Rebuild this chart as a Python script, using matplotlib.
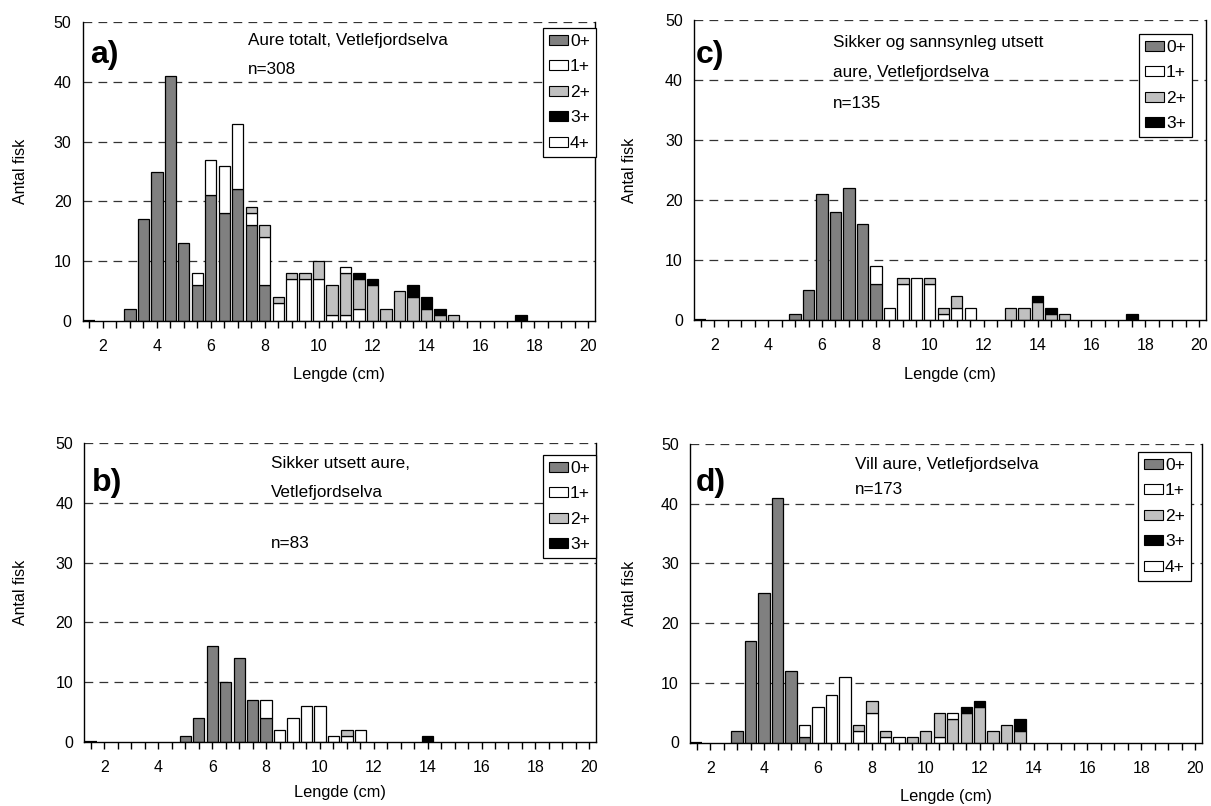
import numpy as np
import matplotlib
matplotlib.use("Agg")
import matplotlib.pyplot as plt
from matplotlib.patches import Patch
from matplotlib.ticker import MultipleLocator

plt.rcParams['font.family'] = ['Liberation Sans', 'DejaVu Sans']

# ---------------- data ----------------
# length classes (cm), 0.5 cm bins from 1.5 to 20
lengths = [1.5, 2.0, 2.5, 3.0, 3.5, 4.0, 4.5, 5.0, 5.5, 6.0, 6.5, 7.0, 7.5, 8.0,
           8.5, 9.0, 9.5, 10.0, 10.5, 11.0, 11.5, 12.0, 12.5, 13.0, 13.5, 14.0,
           14.5, 15.0, 15.5, 16.0, 16.5, 17.0, 17.5, 18.0, 18.5, 19.0, 19.5, 20.0]
age_labels = ["0+", "1+", "2+", "3+", "4+"]
x_tick_labels = [2, 4, 6, 8, 10, 12, 14, 16, 18, 20]

# a) Aure totalt (counts per length bin, listed from 1.5 cm; rest are zero)
a_0 = [0, 0, 0, 2, 17, 25, 41, 13, 6, 21, 18, 22, 16, 6]
a_1 = [0, 0, 0, 0, 0, 0, 0, 0, 2, 6, 8, 11, 2, 8, 3, 7, 7, 7, 1, 1, 2]
a_2 = [0, 0, 0, 0, 0, 0, 0, 0, 0, 0, 0, 0, 1, 2, 1, 1, 1, 3, 5, 7, 5, 6, 2, 5, 4, 2, 1, 1]
a_3 = [0, 0, 0, 0, 0, 0, 0, 0, 0, 0, 0, 0, 0, 0, 0, 0, 0, 0, 0, 0, 1, 1, 0, 0, 2, 2, 1, 0, 0, 0, 0, 0, 1]
a_4 = [0, 0, 0, 0, 0, 0, 0, 0, 0, 0, 0, 0, 0, 0, 0, 0, 0, 0, 0, 1]

# c) Sikker og sannsynleg utsett aure
c_0 = [0, 0, 0, 0, 0, 0, 0, 1, 5, 21, 18, 22, 16, 6]
c_1 = [0, 0, 0, 0, 0, 0, 0, 0, 0, 0, 0, 0, 0, 3, 2, 6, 7, 6, 1, 2, 2]
c_2 = [0, 0, 0, 0, 0, 0, 0, 0, 0, 0, 0, 0, 0, 0, 0, 1, 0, 1, 1, 2, 0, 0, 0, 2, 2, 3, 1, 1]
c_3 = [0, 0, 0, 0, 0, 0, 0, 0, 0, 0, 0, 0, 0, 0, 0, 0, 0, 0, 0, 0, 0, 0, 0, 0, 0, 1, 1, 0, 0, 0, 0, 0, 1]

# b) Sikker utsett aure
b_0 = [0, 0, 0, 0, 0, 0, 0, 1, 4, 16, 10, 14, 7, 4]
b_1 = [0, 0, 0, 0, 0, 0, 0, 0, 0, 0, 0, 0, 0, 3, 2, 4, 6, 6, 1, 1, 2]
b_2 = [0, 0, 0, 0, 0, 0, 0, 0, 0, 0, 0, 0, 0, 0, 0, 0, 0, 0, 0, 1]
b_3 = [0, 0, 0, 0, 0, 0, 0, 0, 0, 0, 0, 0, 0, 0, 0, 0, 0, 0, 0, 0, 0, 0, 0, 0, 0, 1]

# d) Vill aure
d_0 = [0, 0, 0, 2, 17, 25, 41, 12, 1]
d_1 = [0, 0, 0, 0, 0, 0, 0, 0, 2, 6, 8, 11, 2, 5, 1, 1, 0, 0, 1]
d_2 = [0, 0, 0, 0, 0, 0, 0, 0, 0, 0, 0, 0, 1, 2, 1, 0, 1, 2, 4, 4, 5, 6, 2, 3, 2]
d_3 = [0, 0, 0, 0, 0, 0, 0, 0, 0, 0, 0, 0, 0, 0, 0, 0, 0, 0, 0, 0, 1, 1, 0, 0, 2]
d_4 = [0, 0, 0, 0, 0, 0, 0, 0, 0, 0, 0, 0, 0, 0, 0, 0, 0, 0, 0, 1]

# ---------------- style ----------------
W, H = 1211, 806
age_colors = ["#808080", "#ffffff", "#c0c0c0", "#000000", "#ffffff"]
BAR_W = 0.42


def pad(v):
    v = list(v)
    return np.array(v + [0] * (len(lengths) - len(v)), dtype=float)


fig = plt.figure(figsize=(W / 100, H / 100), dpi=100)


def fx(px):
    return px / W


def fy(py):
    return 1 - py / H


def panel(rect, series, letter, title_lines, title_pos, letter_pos, legend_tr,
          ylabel_x, xlabel_y):
    left, top, right, bottom = rect
    ax = fig.add_axes([fx(left), fy(bottom), fx(right - left), (bottom - top) / H])
    x = np.array(lengths)
    base = np.zeros(len(lengths))
    # zero-height bar at first class (drawn as a line in the original)
    ax.bar(x[:1], [0], width=BAR_W, bottom=0, color=age_colors[0],
           edgecolor="black", linewidth=1.6, zorder=3)
    for k, s in enumerate(series):
        vals = pad(s)
        m = vals > 0
        ax.bar(x[m], vals[m], width=BAR_W, bottom=base[m], color=age_colors[k],
               edgecolor="black", linewidth=0.9, zorder=3)
        base = base + vals
    ax.set_xlim(1.25, 20.25)
    ax.set_ylim(0, 50)
    ax.set_yticks([0, 10, 20, 30, 40, 50])
    ax.set_xticks(x_tick_labels)
    ax.set_xticklabels([str(t) for t in x_tick_labels])
    ax.xaxis.set_minor_locator(MultipleLocator(0.5))
    ax.tick_params(axis='x', which='both', direction='out', length=5, width=1,
                   labelsize=11.5, pad=8)
    ax.tick_params(axis='y', length=0, labelsize=11.5, pad=8)
    for yv in [10, 20, 30, 40, 50]:
        ax.axhline(yv, color="#333333", linewidth=0.9, linestyle=(0, (7, 5)), zorder=1)
    ax.spines['top'].set_visible(False)
    for sp in ['left', 'bottom', 'right']:
        ax.spines[sp].set_linewidth(1.0)
        ax.spines[sp].set_color("black")
    ax.spines['bottom'].set_zorder(4)
    # texts
    fig.text(fx(letter_pos[0]), fy(letter_pos[1]), letter, fontsize=23,
             fontweight='bold', va='center', ha='left')
    for i, line in enumerate(title_lines):
        tx, ty = title_pos[i]
        fig.text(fx(tx), fy(ty), line, fontsize=12.3, va='center', ha='left')
    fig.text(fx(ylabel_x), fy((top + bottom) / 2), "Antal fisk", rotation=90,
             fontsize=11.5, va='center', ha='center')
    fig.text(fx((left + right) / 2), fy(xlabel_y), "Lengde (cm)", fontsize=11.8,
             va='center', ha='center')
    handles = [Patch(facecolor=age_colors[k], edgecolor="black", linewidth=0.8)
               for k in range(len(series))]
    leg = ax.legend(handles, age_labels[:len(series)], loc='upper right',
                    bbox_to_anchor=(fx(legend_tr[0]), fy(legend_tr[1])),
                    bbox_transform=fig.transFigure, frameon=True, fancybox=False,
                    framealpha=1, edgecolor="black", fontsize=12.5,
                    handlelength=1.1, handleheight=0.5, handletextpad=0.1,
                    labelspacing=0.6, borderpad=0.35, borderaxespad=0)
    leg.get_frame().set_linewidth(0.9)
    leg.set_zorder(5)
    return ax


panel((82.7, 22, 595, 321), [a_0, a_1, a_2, a_3, a_4], "a)",
      ["Aure totalt, Vetlefjordselva", "n=308"],
      [(248, 40), (248, 70)], (90, 55), (596, 28), 21, 375)

panel((694, 20, 1206, 320), [c_0, c_1, c_2, c_3], "c)",
      ["Sikker og sannsynleg utsett", "aure, Vetlefjordselva", "n=135"],
      [(833, 43), (833, 72), (833, 103)], (696, 55), (1192, 34), 630, 375)

panel((84.3, 443, 596, 742), [b_0, b_1, b_2, b_3], "b)",
      ["Sikker utsett aure,", "Vetlefjordselva", "n=83"],
      [(271, 464), (271, 492), (271, 543)], (92, 483), (596, 455), 21, 792)

panel((690, 444, 1202, 742.5), [d_0, d_1, d_2, d_3, d_4], "d)",
      ["Vill aure, Vetlefjordselva", "n=173"],
      [(855, 465), (855, 489)], (696, 483), (1191, 452), 630, 797)

fig.savefig("out.png", dpi=100)
